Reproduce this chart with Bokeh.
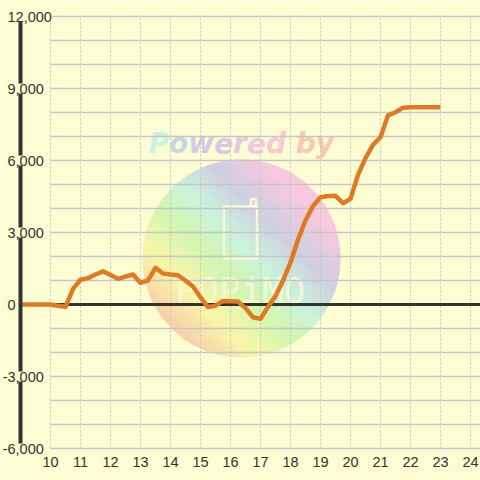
import numpy as np
from bokeh.plotting import figure
from bokeh.models import Range1d
from bokeh.core.properties import value
from bokeh.embed import file_html
from bokeh.resources import INLINE

# ---------------- data ----------------
hours = [9.0, 9.25, 9.5, 9.75, 10.0, 10.25, 10.5, 10.75, 11.0, 11.25, 11.5, 11.75,
         12.0, 12.25, 12.5, 12.75, 13.0, 13.25, 13.5, 13.75, 14.0, 14.25, 14.5, 14.75,
         15.0, 15.25, 15.5, 15.75, 16.0, 16.25, 16.5, 16.75, 17.0, 17.25, 17.5, 17.75,
         18.0, 18.25, 18.5, 18.75, 19.0, 19.25, 19.5, 19.75, 20.0, 20.25, 20.5, 20.75,
         21.0, 21.25, 21.5, 21.75, 22.0, 22.25, 22.5, 22.75, 23.0]
profit = [0, 0, 0, 0, 0, -50, -100, 650, 1030, 1100, 1250, 1380,
          1230, 1070, 1160, 1250, 900, 1000, 1530, 1290, 1250, 1220, 1000, 750,
          300, -110, -50, 150, 140, 120, -150, -530, -600, -100, 350, 1000,
          1750, 2700, 3500, 4100, 4470, 4520, 4530, 4220, 4400, 5400, 6100, 6650,
          6970, 7880, 8010, 8200, 8220, 8220, 8220, 8220, 8220]

x_ticks = [10, 11, 12, 13, 14, 15, 16, 17, 18, 19, 20, 21, 22, 23, 24]
x_tick_labels = ["10", "11", "12", "13", "14", "15", "16", "17", "18", "19", "20",
                 "21", "22", "23", "24"]
y_ticks = [12000, 9000, 6000, 3000, 0, -3000, -6000]
y_tick_labels = ["12,000", "9,000", "6,000", "3,000", "0", "-3,000", "-6,000"]
y_grid = [-6000, -5000, -4000, -3000, -2000, -1000, 0, 1000, 2000, 3000, 4000,
          5000, 6000, 7000, 8000, 9000, 10000, 11000, 12000]

# ---------------- layout constants ----------------
BG = "#FDFDD3"
W = H = 480
PXX = 30.0        # px per hour
PXY = 0.024       # px per unit
X0 = 9.0 - 20 / PXX
X1 = X0 + W / PXX
Y1 = 304 / PXY
Y0 = Y1 - H / PXY
AXIS_X = 9.0
GRID_X0 = 10.0


def sx2x(px):
    return X0 + px / PXX


def sy2y(py):
    return Y1 - py / PXY


p = figure(width=W, height=H, x_range=Range1d(X0, X1), y_range=Range1d(Y0, Y1),
           output_backend="svg", toolbar_location=None, title=None,
           x_axis_type=None, y_axis_type=None, min_border=0)
p.background_fill_color = BG
p.border_fill_color = BG
p.outline_line_color = None
p.grid.visible = False

# ---------------- watermark ----------------
wm_cx, wm_cy, wm_r = sx2x(241), sy2y(258), 99.0
stops_u = [-99, -60, -20, 10, 45, 85, 99]
stops_c = [(248, 206, 170), (248, 246, 168), (208, 246, 176), (200, 244, 218),
           (208, 206, 226), (248, 200, 222), (248, 200, 222)]
edges = np.linspace(-wm_r, wm_r, 61)
s2 = np.sqrt(2.0)
wxs, wys, wcols = [], [], []
for a, b in zip(edges[:-1], edges[1:]):
    b2 = min(b + 0.8, wm_r)
    u = np.linspace(a, b2, 8)
    v = np.sqrt(np.maximum(wm_r ** 2 - u ** 2, 0))
    uu = np.concatenate([u, u[::-1]])
    vv = np.concatenate([v, -v[::-1]])
    sx = (uu + vv) / s2
    sy = (-uu + vv) / s2
    wxs.append(list(wm_cx + sx / PXX))
    wys.append(list(wm_cy - sy / PXY))
    um = 0.5 * (a + b)
    rgb = [int(round(np.interp(um, stops_u, [c[k] for c in stops_c]))) for k in range(3)]
    wcols.append("#%02x%02x%02x" % tuple(rgb))
p.patches(wxs, wys, fill_color=wcols, line_color=None)

cream = "#FAF8D4"
p.rect(x=[sx2x(240)], y=[sy2y(232)], width=[33 / PXX], height=[52 / PXY],
       fill_color=None, line_color=cream, line_width=2.5)
p.rect(x=[sx2x(253)], y=[sy2y(202)], width=[5 / PXX], height=[7 / PXY],
       fill_color=None, line_color=cream, line_width=2.5)
p.text(x=[sx2x(240)], y=[sy2y(290)], text=["PQPiMO"], text_font=value("DejaVu Sans Mono"),
       text_font_size="36px", text_color=cream, text_alpha=0.85,
       text_align="center", text_baseline="middle")

pw_letters = ["P", "o", "w", "e", "r", "e", "d", " ", "b", "y"]
pw_adv = [0.733, 0.687, 0.924, 0.678, 0.493, 0.678, 0.716, 0.348, 0.716, 0.652]
pw_cols = ["#C8F4E0", "#C8D6E4", "#D0CCE2", "#DCC8E2", "#E8C8E0", "#F2C8DC",
           "#F8C8D4", "#F8C8C0", "#F8C8B8", "#F8CAA8"]
pw_fs = 28.0
pw_x = []
cur = 148.0
for adv in pw_adv:
    pw_x.append(sx2x(cur))
    cur += adv * pw_fs
p.text(x=pw_x, y=[sy2y(143)] * len(pw_x), text=pw_letters,
       text_font=value("DejaVu Sans"), text_font_style="bold italic",
       text_font_size="28px", text_color=pw_cols, text_align="left",
       text_baseline="alphabetic")

# ---------------- grid ----------------
p.segment(x0=[GRID_X0] * len(y_grid), y0=y_grid, x1=[X1] * len(y_grid), y1=y_grid,
          line_color="#C6C6CA", line_width=1.4)
p.segment(x0=x_ticks, y0=[min(y_grid)] * len(x_ticks), x1=x_ticks,
          y1=[max(y_grid)] * len(x_ticks),
          line_color="#C4C4C4", line_width=1, line_dash="2 2")
# zero line
p.segment(x0=[GRID_X0], y0=[0], x1=[X1], y1=[0], line_color="#333333", line_width=3)

# ---------------- data line ----------------
p.line(hours, profit, line_color="#E07A22", line_width=4.5, line_join="round")

# ---------------- axis line ----------------
p.segment(x0=[AXIS_X], y0=[min(y_grid)], x1=[AXIS_X], y1=[max(y_grid)],
          line_color="#333333", line_width=4)

# ---------------- tick labels ----------------
y_lab_off = [-4.8 if t.startswith("-") else 0 for t in y_tick_labels]
p.text(x=[sx2x(7)] * len(y_ticks), y=y_ticks, text=y_tick_labels, x_offset=y_lab_off,
       text_font=value("Liberation Sans"), text_font_size="14.5px",
       text_color="#333333", text_align="left", text_baseline="middle",
       background_fill_color=BG)
p.text(x=x_ticks, y=[sy2y(461)] * len(x_ticks), text=x_tick_labels,
       text_font=value("Liberation Sans"), text_font_size="14.5px",
       text_color="#333333", text_align="center", text_baseline="middle")

open("out.html", "w").write(file_html(p, INLINE))
